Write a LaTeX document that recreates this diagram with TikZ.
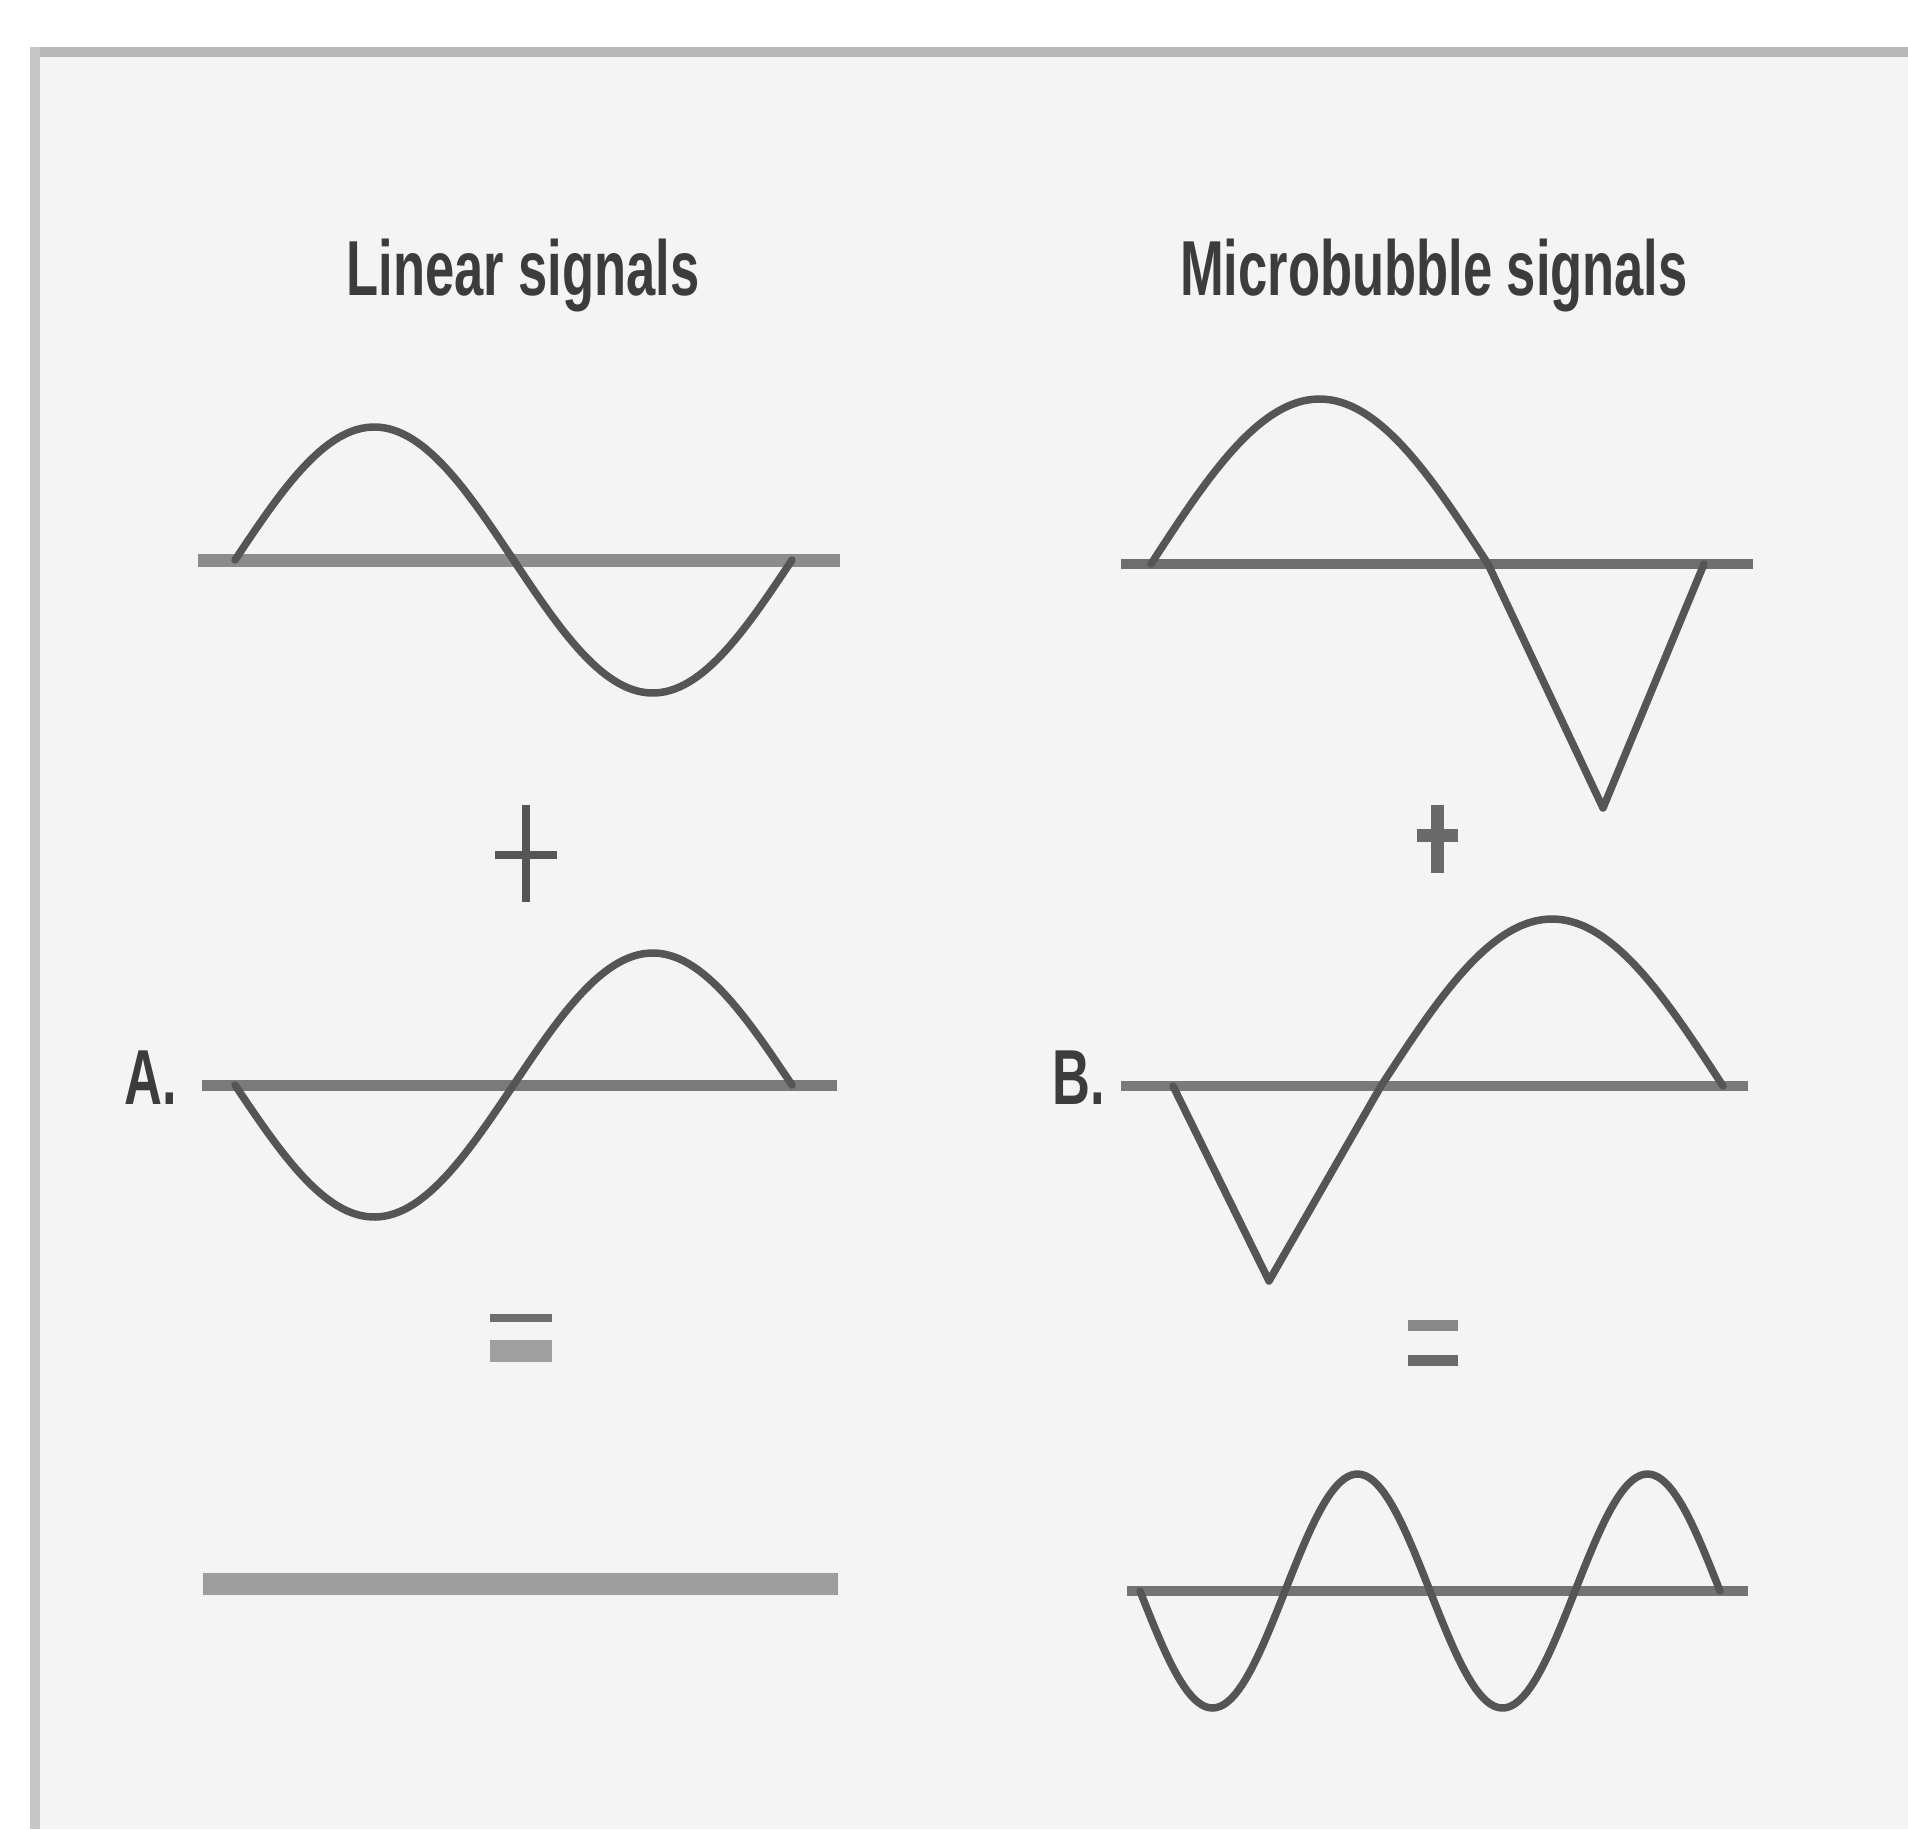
\documentclass[tikz,border=0pt]{standalone}
\usepackage{fontspec}
\newfontfamily\titlefont[FakeStretch=0.673]{Liberation Sans Bold}
\begin{document}
\begin{tikzpicture}[x=1pt,y=-1pt,
  curve/.style={draw=curvecol,line width=7.5pt,line join=round,line cap=round},
  axis/.style={line width=#1,line cap=butt},
  label/.style={inner sep=0pt,text=textcol,font=\titlefont\fontsize{78}{90}\selectfont},
  sym/.style={line width=#1,line cap=butt}]
\definecolor{curvecol}{HTML}{555555}
\definecolor{textcol}{HTML}{3C3C3C}
\definecolor{bgcol}{HTML}{F4F4F4}
\useasboundingbox (0,0) rectangle (1908,1829);
\fill[white] (0,0) rectangle (1908,1829);
\fill[bgcol] (35,52) rectangle (1908,1829);
% frame lines
\draw[color={rgb,255:red,184;green,184;blue,184},line width=10pt] (30,52) -- (1908,52);
\draw[color={rgb,255:red,198;green,198;blue,198},line width=10pt] (35,47) -- (35,1829);
% titles
\node[label,anchor=base] (tlin) at (523,295) {Linear signals};
\node[label,anchor=base] (tmic) at (1434,295) {Microbubble signals};
\node[label,anchor=base east] (la) at (177,1104) {A.};
\node[label,anchor=base east] (lb) at (1105,1104) {B.};
% axes
\draw[axis=13pt,color={rgb,255:red,140;green,140;blue,140}] (198,560) -- (840,560);
\draw[axis=10pt,color={rgb,255:red,110;green,110;blue,110}] (1121,564) -- (1753,564);
\draw[axis=11pt,color={rgb,255:red,122;green,122;blue,122}] (202,1085) -- (837,1085);
\draw[axis=10pt,color={rgb,255:red,122;green,122;blue,122}] (1121,1086) -- (1748,1086);
\draw[axis=10pt,color={rgb,255:red,115;green,115;blue,115}] (1127,1591) -- (1748,1591);
\draw[axis=22pt,color={rgb,255:red,157;green,157;blue,157}] (203,1584) -- (838,1584);
% curves
\draw[curve] plot[domain=235:792,samples=120] (\x,{560-133*sin((\x-235)/557*360)});
\draw[curve] plot[domain=1151:1488,samples=80] (\x,{564-165*sin((\x-1151)/337*180)}) -- (1603,808) -- (1704,564);
\draw[curve] plot[domain=235:792,samples=120] (\x,{1085+132*sin((\x-235)/557*360)});
\draw[curve] (1173,1086) -- (1269,1281) -- plot[domain=1381:1723,samples=80] (\x,{1086-167*sin((\x-1381)/342*180)});
\draw[curve] plot[domain=1140:1720,samples=160] (\x,{1591+117*sin((\x-1140)/290*360)});
% plus signs
\draw[sym=8pt,curvecol] (526,805) -- (526,902);
\draw[sym=8pt,curvecol] (495,855) -- (557,855);
\draw[sym=13pt,color={rgb,255:red,106;green,106;blue,106}] (1437,805) -- (1437,873);
\draw[sym=13pt,color={rgb,255:red,106;green,106;blue,106}] (1417,835) -- (1458,835);
% equals signs
\draw[sym=8pt,color={rgb,255:red,110;green,110;blue,110}] (490,1318) -- (552,1318);
\draw[sym=22pt,color={rgb,255:red,160;green,160;blue,160}] (490,1351) -- (552,1351);
\draw[sym=11pt,color={rgb,255:red,136;green,136;blue,136}] (1408,1325) -- (1458,1325);
\draw[sym=11pt,color={rgb,255:red,105;green,105;blue,105}] (1408,1360) -- (1458,1360);
\end{tikzpicture}
\end{document}
